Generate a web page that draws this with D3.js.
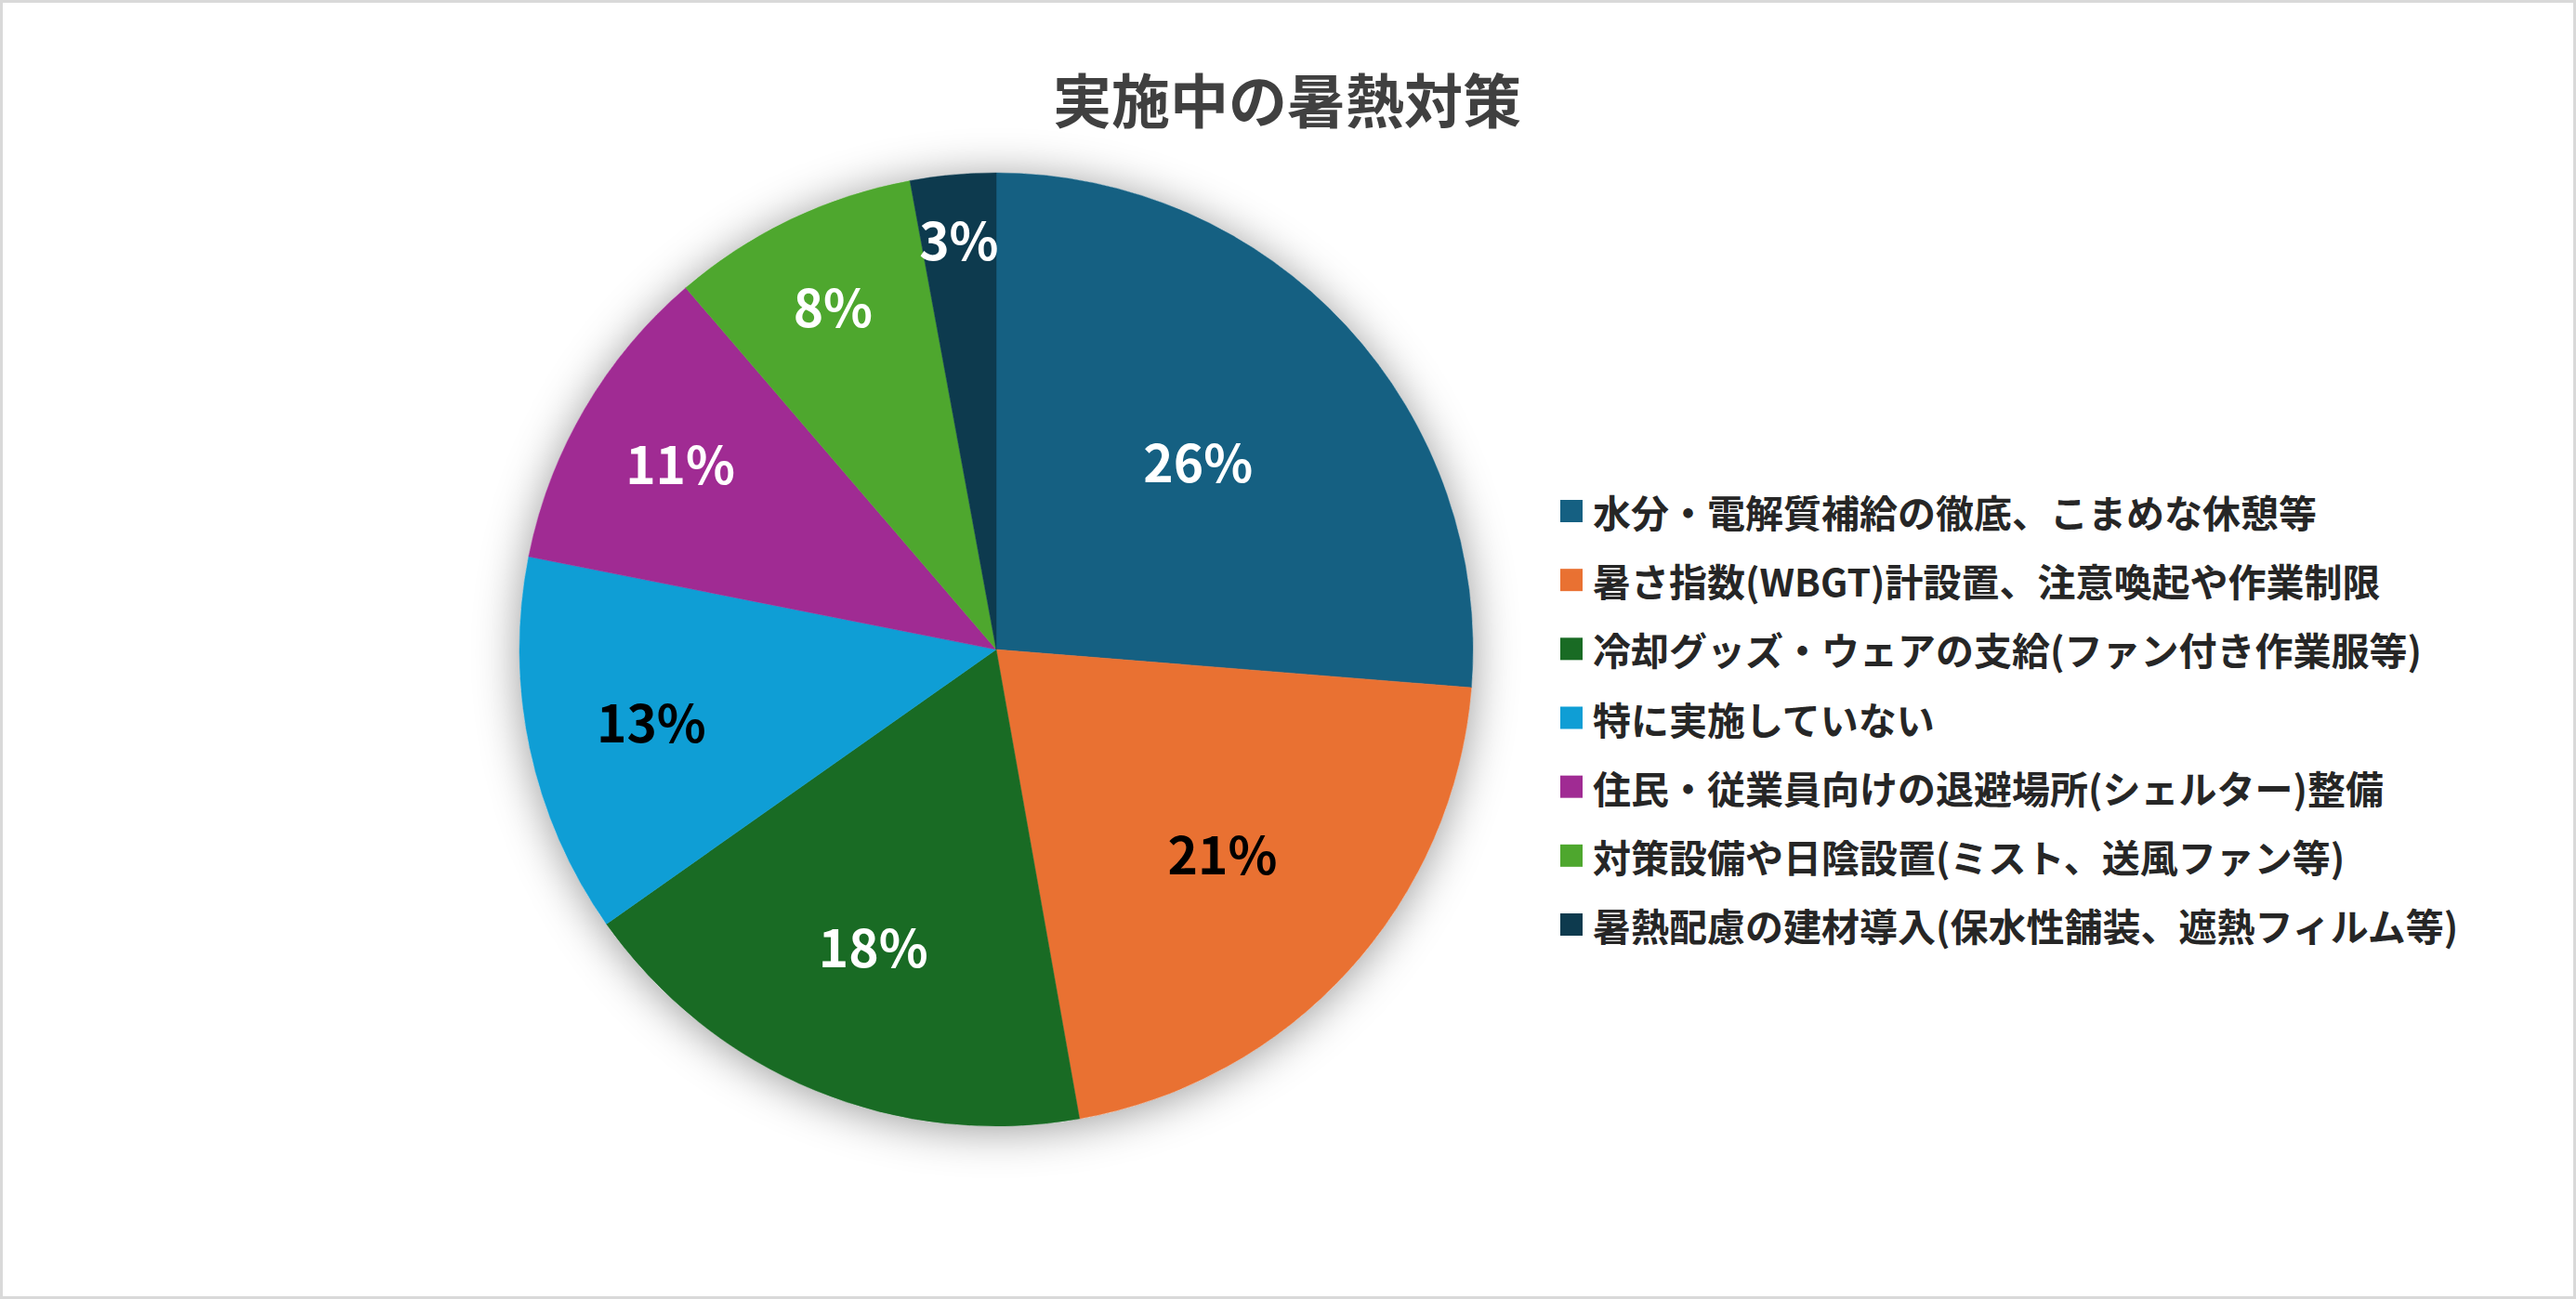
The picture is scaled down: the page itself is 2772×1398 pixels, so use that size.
<!DOCTYPE html>
<html lang="ja">
<head>
<meta charset="utf-8">
<script src="https://cdn.jsdelivr.net/npm/d3@7"></script>
<style>
  html, body { margin: 0; padding: 0; background: #fff; }
  svg { display: block; font-family: "Noto Sans CJK JP", "Noto Sans", sans-serif; }
</style>
</head>
<body>
<div id="chart"></div>
<script>
// Chart data
const title = "実施中の暑熱対策";
const categories = [
    "水分・電解質補給の徹底、こまめな休憩等",
    "暑さ指数(WBGT)計設置、注意喚起や作業制限",
    "冷却グッズ・ウェアの支給(ファン付き作業服等)",
    "特に実施していない",
    "住民・従業員向けの退避場所(シェルター)整備",
    "対策設備や日陰設置(ミスト、送風ファン等)",
    "暑熱配慮の建材導入(保水性舗装、遮熱フィルム等)"
];
const shares = [26.3, 20.95, 18.05, 12.9, 10.6, 8.4, 2.9];

// Slice colours and the ink used for the % label on each
const colors = ["#156082", "#E97132", "#196B24", "#0F9ED5", "#A02B93", "#4EA72E", "#0D3A4E"];
const labelInk = ["#ffffff", "#000000", "#ffffff", "#000000", "#ffffff", "#ffffff", "#ffffff"];

(function () {
    const width = 2772;
    const height = 1398;
    const cx = 1072, cy = 699, radius = 513;

    const svg = d3.select("#chart")
        .append("svg")
        .attr("width", width)
        .attr("height", height);

    // Soft shadow behind the pie
    const defs = svg.append("defs");
    const shadow = defs.append("filter")
        .attr("id", "pieShadow")
        .attr("x", "-30%").attr("y", "-30%")
        .attr("width", "160%").attr("height", "160%");
    shadow.append("feDropShadow")
        .attr("dx", 0).attr("dy", 4)
        .attr("stdDeviation", 24)
        .attr("flood-color", "#000")
        .attr("flood-opacity", 0.4);

    // Chart frame
    svg.append("rect")
        .attr("x", 1.5).attr("y", 1.5)
        .attr("width", width - 3).attr("height", height - 3)
        .attr("fill", "#fff")
        .attr("stroke", "#d9d9d9")
        .attr("stroke-width", 3);

    // Title
    svg.append("text")
        .attr("x", 1385)
        .attr("y", 104)
        .attr("text-anchor", "middle")
        .attr("dominant-baseline", "central")
        .attr("font-size", 63)
        .attr("font-weight", "bold")
        .attr("fill", "#404040")
        .text(title);

    const data = categories.map((c, i) => ({ name: c, value: shares[i], i: i }));

    const pie = d3.pie()
        .value(d => d.value)
        .sort(null);

    const arc = d3.arc()
        .innerRadius(0)
        .outerRadius(radius);

    const arcs = pie(data);

    const g = svg.append("g")
        .attr("transform", `translate(${cx},${cy})`);

    g.append("circle")
        .attr("r", radius)
        .attr("fill", "#fff")
        .attr("filter", "url(#pieShadow)");

    g.selectAll("path.slice")
        .data(arcs)
        .enter()
        .append("path")
        .attr("class", "slice")
        .attr("d", arc)
        .attr("fill", d => colors[d.data.i])
        .attr("stroke", d => colors[d.data.i])
        .attr("stroke-width", 0.5);

    // Smaller slices get their labels pushed further out
    const labelRadius = d3.scaleLinear()
        .domain([3, 26])
        .range([0.86, 0.58]);

    const fmt = d3.format(".0%");

    g.selectAll("text.pct")
        .data(arcs)
        .enter()
        .append("text")
        .attr("class", "pct")
        .attr("transform", d => {
            const a = (d.startAngle + d.endAngle) / 2;
            const r = radius * labelRadius(d.data.value);
            return `translate(${Math.sin(a) * r},${-Math.cos(a) * r - 3})`;
        })
        .attr("text-anchor", "middle")
        .attr("dominant-baseline", "central")
        .attr("font-size", 55)
        .attr("font-weight", "bold")
        .attr("fill", d => labelInk[d.data.i])
        .text(d => fmt(Math.round(d.data.value) / 100));

    // Legend
    const rowY = d3.scalePoint()
        .domain(categories)
        .range([550, 995]);

    const legend = svg.append("g");

    const rows = legend.selectAll("g.row")
        .data(data)
        .enter()
        .append("g")
        .attr("class", "row")
        .attr("transform", d => `translate(1679,${rowY(d.name)})`);

    rows.append("rect")
        .attr("x", 0)
        .attr("y", -12)
        .attr("width", 24)
        .attr("height", 24)
        .attr("fill", d => colors[d.i]);

    rows.append("text")
        .attr("x", 35)
        .attr("y", 0)
        .attr("dominant-baseline", "central")
        .attr("font-size", 41)
        .attr("font-weight", "bold")
        .attr("fill", "#262626")
        .text(d => d.name);
})();
</script>
</body>
</html>
